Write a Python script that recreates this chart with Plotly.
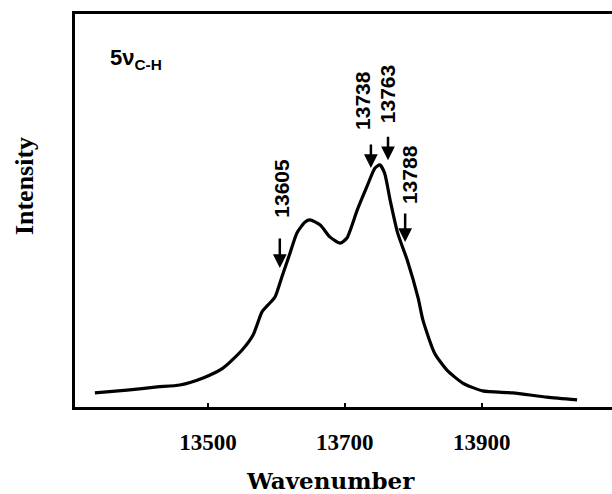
import plotly.graph_objects as go

# Spectrum trace (wavenumber, intensity a.u.)
wavenumber = [13335, 13382, 13426, 13459, 13493, 13522, 13550, 13566, 13579, 13588,
              13598, 13608, 13620, 13630, 13642, 13649, 13664, 13678, 13693, 13703,
              13718, 13732, 13744, 13751, 13758, 13766, 13777, 13791, 13807, 13814,
              13831, 13849, 13872, 13901, 13945, 13995, 14039]
intensity = [3.6, 4.3, 5.1, 5.6, 7.4, 9.9, 14.5, 18.3, 24.2, 26.0,
             28.0, 33.1, 39.2, 44.3, 47.1, 47.6, 46.3, 43.3, 41.7, 43.0,
             50.1, 56.0, 60.8, 61.6, 59.5, 52.7, 44.3, 37.4, 27.7, 22.1,
             13.7, 9.4, 6.1, 4.1, 3.6, 2.5, 1.8]

# Marked band positions and where the arrows point
band_pos = [13605, 13738, 13763, 13788]
band_tip = [35.4, 60.8, 62.8, 42.0]
band_labels = ["13605", "13738", "13763", "13788"]

tick_vals = [13500, 13700, 13900]
tick_text = ["13500", "13700", "13900"]

# styling (pixel offsets)
arrow_len = [31, 25, 25, 30]
label_dy = [80, 68, 66, 67]
label_dx = [2, -9, -1, 5]

fig = go.Figure()
fig.add_trace(go.Scatter(x=wavenumber, y=intensity, mode="lines",
                         line=dict(color="black", width=3.2, shape="spline", smoothing=0.6),
                         hoverinfo="skip", showlegend=False))

for x, y, t, L, dy, dx in zip(band_pos, band_tip, band_labels, arrow_len, label_dy, label_dx):
    fig.add_annotation(x=x, y=y, xref="x", yref="y", text="", showarrow=True,
                       ax=0, ay=-L, arrowhead=2, arrowsize=1.1, arrowwidth=2.5,
                       arrowcolor="black", standoff=0)
    fig.add_annotation(x=x, y=y, xref="x", yref="y", text="<b>" + t + "</b>",
                       showarrow=False, textangle=-90, yshift=dy, xshift=dx,
                       font=dict(family="Liberation Sans Narrow, Liberation Sans, Arial", size=21, color="black"))

fig.add_annotation(x=0.062, y=0.885, xref="paper", yref="paper", xanchor="left", yanchor="middle",
                   text="<b>5ν<sub>C-H</sub></b>", showarrow=False,
                   font=dict(family="Liberation Sans, Arial", size=22, color="black"))

fig.add_annotation(x=-0.095, y=0.562, xref="paper", yref="paper", textangle=-90,
                   xanchor="center", yanchor="middle",
                   text="<b>Intensity</b>", showarrow=False,
                   font=dict(family="Liberation Serif, Times New Roman", size=26, color="black"))

fig.add_annotation(x=0.475, y=-0.188, xref="paper", yref="paper",
                   xanchor="center", yanchor="middle",
                   text="<b>Wavenumber</b>", showarrow=False,
                   font=dict(family="DejaVu Serif", size=23, color="black"))

fig.update_xaxes(range=[13306, 14090], tickvals=tick_vals, ticktext=tick_text,
                 ticks="inside", ticklen=4, tickwidth=2, tickcolor="black",
                 showline=True, linecolor="black", linewidth=3, mirror=True,
                 showgrid=False, zeroline=False, ticklabelstandoff=12,
                 tickfont=dict(family="Liberation Serif, Times New Roman", size=23,
                               color="black", weight="bold"))
fig.update_yaxes(range=[0, 100], showticklabels=False, ticks="",
                 showline=True, linecolor="black", linewidth=2.5,
                 showgrid=False, zeroline=False)

fig.update_layout(width=612, height=494, margin=dict(l=75, r=0, t=14, b=87, autoexpand=False),
                  plot_bgcolor="white", paper_bgcolor="white",
                  font=dict(family="Liberation Serif", color="black"))

fig.write_html("out.html", config={"displayModeBar": False},
               post_script="document.body.style.margin='0';document.body.style.overflow='hidden';")
